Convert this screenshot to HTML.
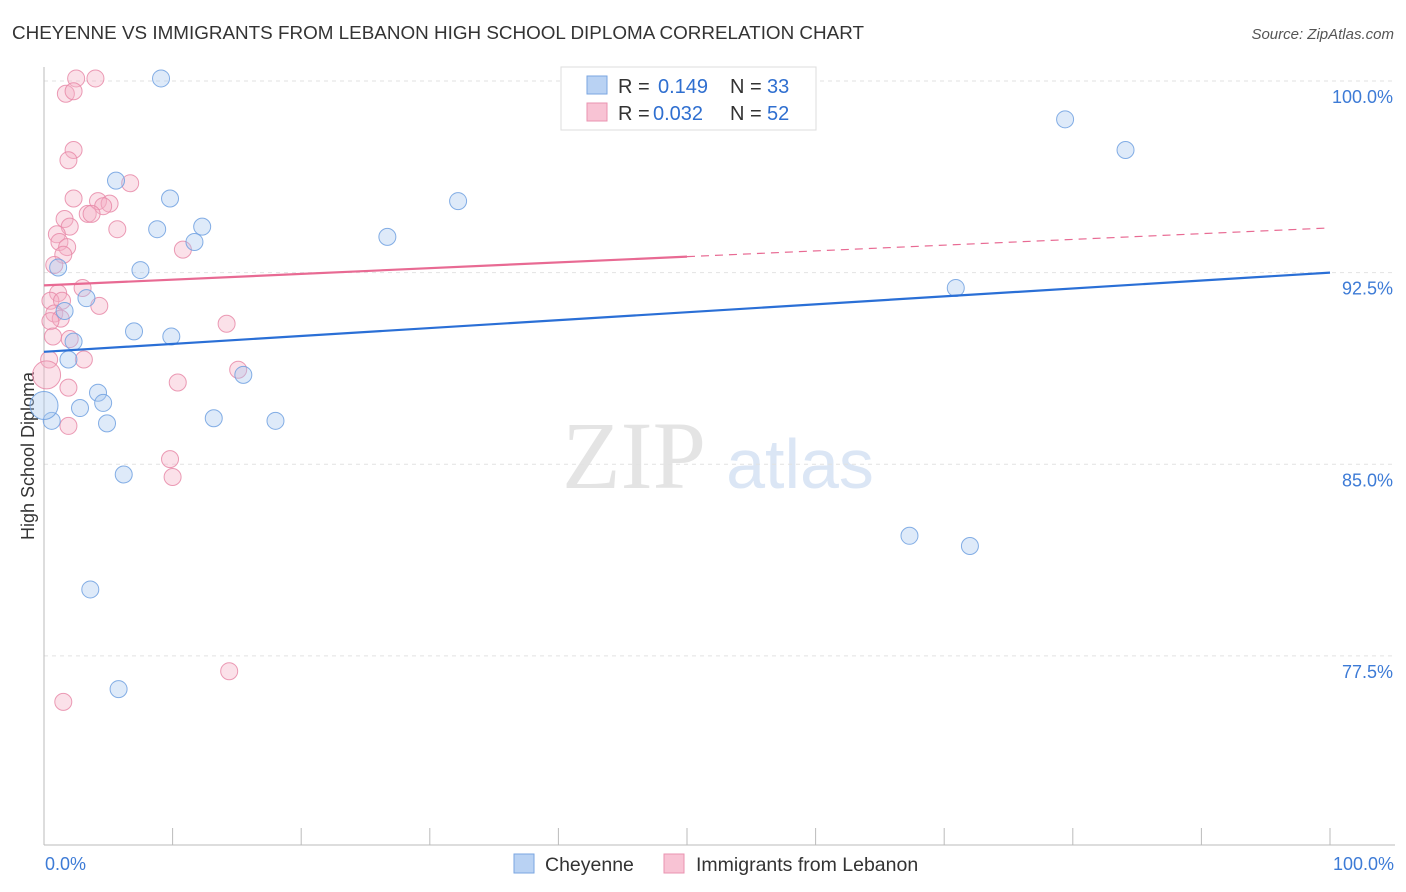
<!DOCTYPE html>
<html><head><meta charset="utf-8">
<style>
body{margin:0;background:#fff;font-family:"Liberation Sans",sans-serif;}
#wrap{position:relative;width:1406px;height:892px;overflow:hidden;}
</style></head>
<body>
<div id="wrap">
<svg id="svg" width="1406" height="892" xmlns="http://www.w3.org/2000/svg">
<text x="12" y="39" font-size="18" fill="#333" textLength="852" lengthAdjust="spacingAndGlyphs">CHEYENNE VS IMMIGRANTS FROM LEBANON HIGH SCHOOL DIPLOMA CORRELATION CHART</text>
<text x="1394" y="39" font-size="15" fill="#555" font-style="italic" text-anchor="end">Source: ZipAtlas.com</text>
<text x="634" y="488" font-size="96" fill="#e4e4e4" font-family="Liberation Serif" text-anchor="middle">ZIP</text>
<text x="800" y="488" font-size="70" fill="#dbe6f5" text-anchor="middle">atlas</text>
<text transform="translate(34,456) rotate(-90)" font-size="18" fill="#333" text-anchor="middle">High School Diploma</text>
<g id="grid"></g><g id="axes"></g><g id="pts"></g><g id="trend"></g>
<g>
<rect x="561" y="67" width="255" height="63" fill="#fff" stroke="#ddd"/>
<rect x="587" y="76" width="20" height="18" fill="#b9d2f3" stroke="#7aa6e2"/>
<rect x="587" y="103" width="20" height="18" fill="#f8c3d4" stroke="#ea93b0"/>
<text x="618" y="93" font-size="20" fill="#333">R =</text>
<text x="658" y="93" font-size="20" fill="#2f6fd0">0.149</text>
<text x="730" y="93" font-size="20" fill="#333">N =</text>
<text x="767" y="93" font-size="20" fill="#2f6fd0">33</text>
<text x="618" y="120" font-size="20" fill="#333">R =</text>
<text x="653" y="120" font-size="20" fill="#2f6fd0">0.032</text>
<text x="730" y="120" font-size="20" fill="#333">N =</text>
<text x="767" y="120" font-size="20" fill="#2f6fd0">52</text>
</g>
<g>
<rect x="514" y="854" width="20" height="19" fill="#b9d2f3" stroke="#7aa6e2"/>
<text x="545" y="871" font-size="19.5" fill="#333">Cheyenne</text>
<rect x="664" y="854" width="20" height="19" fill="#f8c3d4" stroke="#ea93b0"/>
<text x="696" y="871" font-size="19.5" fill="#333">Immigrants from Lebanon</text>
</g>
<text x="45" y="870" font-size="18" fill="#3d7bd6">0.0%</text>
<text x="1394" y="870" font-size="18" fill="#3d7bd6" text-anchor="end">100.0%</text>
</svg>
</div>
<script>
const yTicks=[100,92.5,85,77.5];
const yTickLabels=["100.0%","92.5%","85.0%","77.5%"];
const blueX=[9.1,79.4,84.1,5.6,9.8,32.2,8.8,12.3,11.7,26.7,7.5,1.1,70.9,3.3,1.6,7.0,9.9,2.3,1.9,15.5,4.2,4.6,2.8,0.6,4.9,13.2,18.0,6.2,67.3,72.0,3.6,5.8,0.0];
const blueY=[100.1,98.5,97.3,96.1,95.4,95.3,94.2,94.3,93.7,93.9,92.6,92.7,91.9,91.5,91.0,90.2,90.0,89.8,89.1,88.5,87.8,87.4,87.2,86.7,86.6,86.8,86.7,84.6,82.2,81.8,80.1,76.2,87.3];
const pinkX=[2.5,4.0,1.7,2.3,2.3,1.9,6.7,2.3,4.2,5.1,4.6,3.4,3.7,1.6,2.0,5.7,1.0,1.2,1.8,1.5,10.8,0.8,3.0,1.1,0.5,1.4,4.3,0.8,1.3,0.5,14.2,0.7,2.0,3.1,0.4,0.2,1.9,10.4,15.1,1.9,9.8,10.0,14.4,1.5,42.5];
const pinkY=[100.1,100.1,99.5,99.6,97.3,96.9,96.0,95.4,95.3,95.2,95.1,94.8,94.8,94.6,94.3,94.2,94.0,93.7,93.5,93.2,93.4,92.8,91.9,91.7,91.4,91.4,91.2,90.9,90.7,90.6,90.5,90.0,89.9,89.1,89.1,88.5,88.0,88.2,88.7,86.5,85.2,84.5,76.9,75.7,100.1];
const blueTrend=[89.4,92.5];
const pinkTrend=[92.0,94.25];
const NS="http://www.w3.org/2000/svg";
const xs=v=>44+v*12.86, ys=v=>81+(100-v)*25.55;
function mk(tag,attrs,parent){const e=document.createElementNS(NS,tag);for(const k in attrs)e.setAttribute(k,attrs[k]);document.getElementById(parent).appendChild(e);return e;}
yTicks.forEach((t,i)=>{
 const l=mk('line',{x1:44,x2:1395,y1:ys(t),y2:ys(t),stroke:'#e2e2e2','stroke-dasharray':'4,4'},'grid');
 
 
 const tx=mk('text',{x:1393,y:ys(t)+22,'font-size':18,fill:'#3d7bd6','text-anchor':'end'},'grid');
 tx.textContent=yTickLabels[i];
 
 
});
let a=mk('line',{x1:44,x2:44,y1:67,y2:845,stroke:'#bbb'},'axes');


a=mk('line',{x1:44,x2:1395,y1:845,y2:845,stroke:'#bbb'},'axes');


for(let i=0;i<=10;i++){
 const t=mk('line',{x1:xs(i*10),x2:xs(i*10),y1:828,y2:845,stroke:'#bbb'},'axes');
 
 
}
function pts(X,Y,fill,stroke,name){
 X.forEach((x,i)=>{
  const big=(x<0.3);
  const c=mk('circle',{cx:xs(x),cy:ys(Y[i]),r:big?14:8.5,fill:fill,'fill-opacity':0.38,stroke:stroke,'stroke-width':1,'stroke-opacity':0.85},'pts');
  
  
 });
}
pts(pinkX,pinkY,'#f5b0c6','#e88aa8','lebanon-point');
pts(blueX,blueY,'#a9c8f0','#6fa0e0','cheyenne-point');
let tl=mk('line',{x1:xs(0),y1:ys(blueTrend[0]),x2:xs(100),y2:ys(blueTrend[1]),stroke:'#2a6fd6','stroke-width':2.2},'trend');


const pm=pinkTrend[0]+(pinkTrend[1]-pinkTrend[0])*0.5;
tl=mk('line',{x1:xs(0),y1:ys(pinkTrend[0]),x2:xs(50),y2:ys(pm),stroke:'#e86a93','stroke-width':2.2},'trend');


tl=mk('line',{x1:xs(50),y1:ys(pm),x2:xs(100),y2:ys(pinkTrend[1]),stroke:'#e86a93','stroke-width':1.2,'stroke-dasharray':'8,6'},'trend');


</script>
</body></html>
